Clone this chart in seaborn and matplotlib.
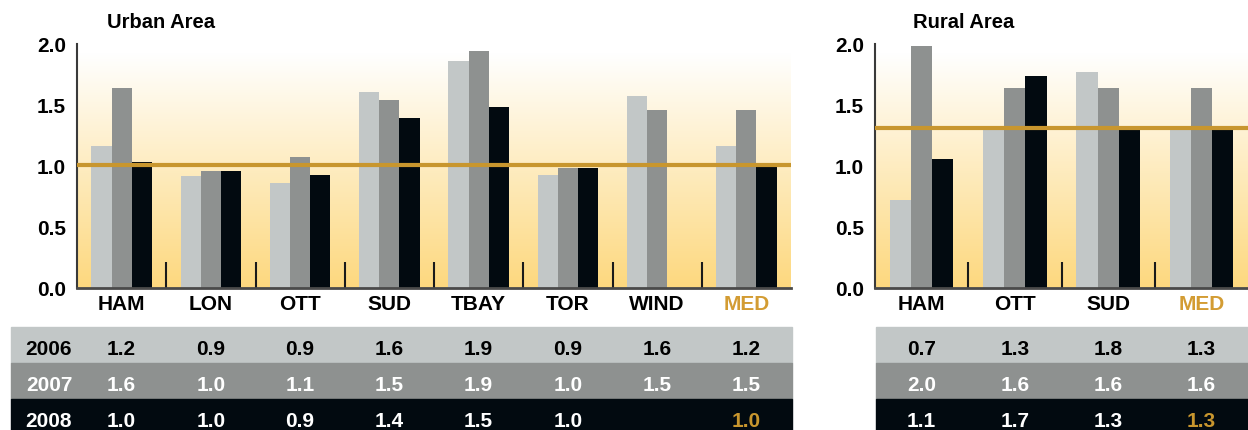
import numpy as np
import pandas as pd
import seaborn as sns
import matplotlib.pyplot as plt
from matplotlib.colors import LinearSegmentedColormap
from matplotlib.patches import Rectangle
from matplotlib.transforms import blended_transform_factory

# data
years = ['2006', '2007', '2008']

urban_cities = ['HAM', 'LON', 'OTT', 'SUD', 'TBAY', 'TOR', 'WIND', 'MED']
urban_2006 = [1.16, 0.92, 0.86, 1.61, 1.86, 0.93, 1.57, 1.16]
urban_2007 = [1.64, 0.96, 1.07, 1.54, 1.94, 0.98, 1.46, 1.46]
urban_2008 = [1.03, 0.96, 0.93, 1.39, 1.48, 0.98, np.nan, 1.00]
urban_median = 1.01

rural_cities = ['HAM', 'OTT', 'SUD', 'MED']
rural_2006 = [0.72, 1.32, 1.77, 1.32]
rural_2007 = [1.98, 1.64, 1.64, 1.64]
rural_2008 = [1.06, 1.74, 1.32, 1.32]
rural_median = 1.31

year_colors = ['#c2c7c7', '#8e9190', '#020a10']
text_colors = ['#000000', '#ffffff', '#ffffff']
gold = '#c8962e'
gold_text = '#d39c33'

W, H = 1248, 431


def to_long(cities: list, series: list) -> pd.DataFrame:
    """Builds the long table seaborn wants from the per-year lists."""
    rows = []
    for year, vals in zip(years, series):
        for city, v in zip(cities, vals):
            rows.append({'city': city, 'year': year, 'value': v})
    return pd.DataFrame(rows)


def draw_panel(fig, left_px: int, right_px: int, cities: list, series: list,
               median: float, title: str, title_x: int, band_left_px: int,
               show_years: bool) -> None:
    """Draws one bar panel plus the value table underneath it."""
    n = len(cities)
    top_px, bottom_px = 45, 289
    ax = fig.add_axes([left_px / W, (H - bottom_px) / H,
                       (right_px - left_px) / W, (bottom_px - top_px) / H])

    # background gradient, white at the top to yellow at the bottom
    bg = LinearSegmentedColormap.from_list('bg', ['#fdd87e', '#ffffff'])
    grad = np.linspace(0, 1, 256).reshape(-1, 1)
    ax.imshow(grad, extent=(-0.5, n - 0.5, 0, 1.92), origin='lower',
              cmap=bg, aspect='auto', zorder=0)

    df = to_long(cities, series)
    sns.barplot(data=df, x='city', y='value', hue='year', order=cities,
                hue_order=years, palette=year_colors, saturation=1,
                width=0.68, gap=0, legend=False, ax=ax, zorder=1,
                linewidth=0)

    ax.vlines(np.arange(n - 1) + 0.5, 0, 0.21, color='#1a1a1a', lw=1.5, zorder=2)
    ax.axhline(median, color=gold, lw=3, zorder=3)

    ax.set_xlim(-0.5, n - 0.5)
    ax.set_ylim(0, 2.0)
    ax.set_yticks([0, 0.5, 1.0, 1.5, 2.0])
    ax.set_yticklabels(['0.0', '0.5', '1.0', '1.5', '2.0'])
    ax.set_xlabel('')
    ax.set_ylabel('')
    for side in ['top', 'right']:
        ax.spines[side].set_visible(False)
    ax.spines['left'].set_color('#3a3a3a')
    ax.spines['left'].set_linewidth(1.5)
    ax.spines['bottom'].set_color('#4a4a4a')
    ax.spines['bottom'].set_linewidth(2)
    ax.tick_params(axis='y', length=5, width=1.2, color='#3a3a3a',
                   labelcolor='black', labelsize=15, pad=3)
    ax.tick_params(axis='x', length=0, labelcolor='black', labelsize=15, pad=4)
    ax.get_xticklabels()[-1].set_color(gold_text)

    fig.text(title_x / W, 1 - 23 / H, title, fontsize=14.5, va='center',
             color='black')

    # value table
    row_px = 36
    tab_top = 328
    tab = fig.add_axes([left_px / W, 0, (right_px - left_px) / W, (H - tab_top) / H])
    tab.set_xlim(-0.5, n - 0.5)
    tab.set_ylim((H - tab_top) / row_px, 0)
    tab.axis('off')
    trans = blended_transform_factory(fig.transFigure, tab.transData)
    for r, vals in enumerate(series):
        tab.add_patch(Rectangle((band_left_px / W, r), (right_px + 1 - band_left_px) / W, 1,
                                transform=trans, color=year_colors[r],
                                clip_on=False, zorder=0))
        if show_years:
            tab.text(49 / W, r + 0.6, years[r], transform=trans, ha='center',
                     va='center', fontsize=15, color=text_colors[r])
        for i, v in enumerate(vals):
            if np.isnan(v):
                continue
            color = text_colors[r]
            if r == 2 and cities[i] == 'MED':
                color = gold
            tab.text(i, r + 0.6, f'{v:.1f}', ha='center', va='center',
                     fontsize=15, color=color)


sns.set_theme(style='white')
plt.rcParams['font.family'] = ['Liberation Sans', 'DejaVu Sans']
plt.rcParams['font.weight'] = 'bold'
plt.rcParams['text.color'] = 'black'

fig = plt.figure(figsize=(W / 100, H / 100), dpi=100)

draw_panel(fig, 77, 791, urban_cities, [urban_2006, urban_2007, urban_2008],
           urban_median, 'Urban Area', 107, 11, True)
draw_panel(fig, 875, 1248, rural_cities, [rural_2006, rural_2007, rural_2008],
           rural_median, 'Rural Area', 913, 876, False)

fig.savefig('out.png', dpi=100)
